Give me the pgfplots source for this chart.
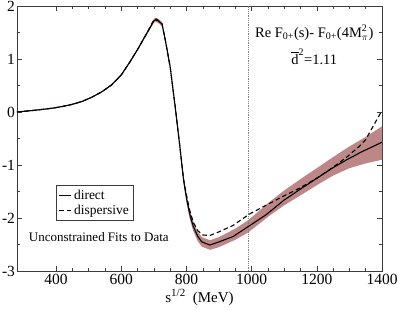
\documentclass[border=0pt]{standalone}
\usepackage{amsmath}
\usepackage{pgfplots}
\pgfplotsset{compat=1.18}
\usepackage{fontspec}
\setmainfont{Liberation Serif}
\definecolor{bandc}{RGB}{190,135,135}
\definecolor{axc}{RGB}{60,60,60}
\begin{document}
\begin{tikzpicture}
\begin{axis}[
  scale only axis, width=365pt, height=265pt,
  xmin=280, xmax=1400, ymin=-3, ymax=2,
  xtick={400,600,...,1400}, minor x tick num=3,
  ytick={-3,-2,...,2}, minor y tick num=1,
  tick align=inside, ticks=both,
  axis line style={axc, line width=0.7pt},
  every tick/.style={axc, line width=0.5pt},
  major tick length=5pt, minor tick length=3pt,
  tick label style={font=\fontsize{15.5}{17}\selectfont},
  /pgf/number format/assume math mode=true,
  /pgf/number format/1000 sep={},
  xticklabel style={yshift=0pt},
  yticklabel style={xshift=1.5pt},
  xlabel={s\raisebox{6pt}{\fontsize{11}{12}\selectfont 1/2}\ \ (MeV)},
  xlabel style={font=\fontsize{15}{17}\selectfont, yshift=3pt},
  legend style={at={(axis cs:400,-1.38)}, anchor=north west,
    font=\fontsize{13.5}{15}\selectfont, draw=axc, line width=0.6pt,
    inner sep=2.5pt, row sep=0pt},
  legend cell align=left,
  legend image code/.code={\draw[#1] (0pt,0pt) -- (12pt,0pt);},
]
% uncertainty band
\addplot[fill=bandc, draw=none, forget plot] coordinates {
(280,0.01) (300,0.022) (330,0.04) (360,0.06) (390,0.083) (420,0.115) (450,0.155) (480,0.21) (510,0.29) (540,0.39) (570,0.525) (600,0.715) (625,0.945) (650,1.20) (675,1.475) (690,1.64) (700,1.755) (705,1.78) (713,1.76) (725,1.70) (735,1.40) (750,0.89) (765,0.16) (781,-0.67) (791,-1.22) (801,-1.58) (811,-1.86) (821,-2.07) (835,-2.26) (847,-2.36) (872,-2.42) (900,-2.36) (950,-2.20) (990,-2.04) (1054,-1.70) (1100,-1.48) (1156,-1.24) (1200,-1.06) (1250,-0.85) (1300,-0.65) (1350,-0.47) (1400,-0.27)
(1400,-0.90) (1350,-0.97) (1300,-1.06) (1250,-1.20) (1200,-1.38) (1156,-1.55) (1100,-1.76) (1054,-1.96) (990,-2.27) (950,-2.41) (900,-2.55) (872,-2.60) (847,-2.54) (835,-2.44) (821,-2.25) (811,-2.04) (801,-1.74) (791,-1.34) (781,-0.77) (765,0.08) (750,0.81) (735,1.32) (725,1.62) (713,1.68) (705,1.70) (700,1.685) (690,1.58) (675,1.425) (650,1.16) (625,0.915) (600,0.685) (570,0.495) (540,0.37) (510,0.27) (480,0.19) (450,0.135) (420,0.095) (390,0.063) (360,0.04) (330,0.02) (300,0.002) (280,-0.01)
} -- cycle;
% vertical line
\addplot[gray, densely dotted, line width=0.8pt, forget plot] coordinates {(990,-3) (990,2)};
% direct
\addplot[black, line width=1.1pt] coordinates {
(280,0.00) (300,0.012) (330,0.03) (360,0.05) (390,0.073) (420,0.105) (450,0.145) (480,0.20) (510,0.28) (540,0.38) (570,0.51) (600,0.70) (625,0.93) (650,1.18) (675,1.45) (690,1.61) (700,1.72) (705,1.74) (713,1.72) (725,1.66) (735,1.36) (750,0.85) (765,0.12) (781,-0.72) (791,-1.28) (801,-1.66) (811,-1.95) (821,-2.16) (835,-2.35) (847,-2.45) (872,-2.51) (900,-2.45) (943,-2.35) (990,-2.16) (1044,-1.94) (1100,-1.66) (1146,-1.47) (1200,-1.25) (1250,-1.05) (1292,-0.90) (1338,-0.75) (1400,-0.57)
};
\addlegendentry{direct}
% dispersive
\addplot[black, line width=1.1pt, dash pattern=on 4.5pt off 3pt] coordinates {
(280,0.00) (300,0.012) (330,0.03) (360,0.05) (390,0.073) (420,0.105) (450,0.145) (480,0.20) (510,0.28) (540,0.38) (570,0.51) (600,0.70) (625,0.93) (650,1.18) (675,1.45) (690,1.62) (700,1.74) (705,1.76) (713,1.73) (725,1.66) (735,1.36) (750,0.85) (765,0.12) (781,-0.72) (791,-1.26) (801,-1.60) (811,-1.88) (821,-2.08) (835,-2.24) (850,-2.32) (872,-2.33) (900,-2.26) (943,-2.14) (992,-1.93) (1044,-1.76) (1100,-1.58) (1146,-1.44) (1200,-1.25) (1250,-1.04) (1292,-0.85) (1330,-0.65) (1350,-0.52) (1379,-0.20) (1400,0.03)
};
\addlegendentry{dispersive}
\node[font=\fontsize{14.5}{16}\selectfont] at (axis cs:1192,1.49) {Re F$_{\text{\fontsize{10}{11}\selectfont 0+}}$(s)- F$_{\text{\fontsize{10}{11}\selectfont 0+}}$(4M$^{\text{\fontsize{10}{11}\selectfont 2}}_{\pi}$)};
\node[font=\fontsize{14.5}{16}\selectfont] at (axis cs:1192,1.04) {$\overline{\text{d}}^{\text{\fontsize{10}{11}\selectfont 2}}$=1.11};
\node[font=\fontsize{13}{15}\selectfont] at (axis cs:531,-2.36) {Unconstrained Fits to Data};
\end{axis}
\pgfresetboundingbox
\path[use as bounding box] (-17pt,-38pt) rectangle (381pt,271pt);
\end{tikzpicture}
\end{document}
